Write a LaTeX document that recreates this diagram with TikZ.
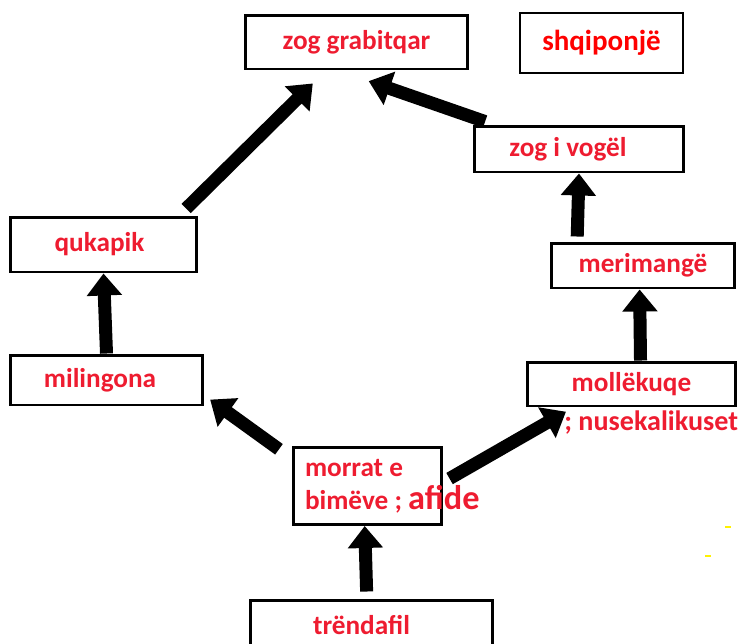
\documentclass[tikz,border=0pt]{standalone}
\usepackage{fontspec}
\setmainfont{Carlito}
\usepackage{tikz}
\usetikzlibrary{arrows.meta,positioning}
\definecolor{boxred}{RGB}{238,28,48}
\tikzstyle{box}=[draw,line width=1.7pt,inner sep=0pt,text=boxred,font=\fontsize{15.5}{19}\selectfont\bfseries]
\tikzstyle{note}=[inner sep=0pt,text=boxred,font=\fontsize{16}{19}\selectfont\bfseries]
\tikzstyle{every edge}=[draw,line width=0.26cm,-{Triangle[length=0.44cm,width=0.68cm]}]

\begin{document}
\begin{tikzpicture}[x=0.02cm,y=-0.02cm]
  \useasboundingbox (0,0) rectangle (741,643);
  \node[box,minimum width=4.46cm,minimum height=1.08cm]		(grabitqar) at (356.5,42) {zog grabitqar};
  \node[draw,line width=0.85pt,minimum width=3.26cm,minimum height=1.2cm,text=red,font=\fontsize{16.5}{19}\selectfont\bfseries]	(shqiponje) at (601.5,43) {shqiponjë};
  \node[box,minimum width=4.2cm,minimum height=0.92cm]		(vogel) at (579,149) {zog i vogël\hspace*{0.44cm}};
  \node[box,minimum width=3.74cm,minimum height=1.1cm]		(qukapik) at (103.5,244.5) {qukapik\hspace*{0.16cm}};
  \node[box,minimum width=3.68cm,minimum height=0.9cm]		(merimange) at (643,265.5) {merimangë};
  \node[box,minimum width=3.86cm,minimum height=1.0cm]		(milingona) at (106.5,380) {milingona\hspace*{0.26cm}};
  \node[box,minimum width=4.18cm,minimum height=0.88cm]		(mollekuqe) at (631.5,384) {mollëkuqe};
  \node[box,text width=2.5cm,align=flush left,inner xsep=0.24cm,minimum height=1.54cm]	(morrat) at (367.5,486)
    {morrat e\\bimëve\rlap{ ; \fontsize{19.5}{19}\selectfont afide}};
  \node[box,minimum width=4.86cm,minimum height=1.0cm]		(trendafil) at (371.5,625) {trëndafil\hspace*{0.4cm}};
  \node[note,anchor=west]		(nuse) at (564,423) {; nusekalikuset};

  \path (qukapik.21) edge[shorten <=0.2cm,shorten >=0.37cm] (grabitqar.223)
	(vogel.164) edge[shorten <=0.18cm,shorten >=0.65cm] (grabitqar.237)
	(milingona.north) edge (qukapik.south)
	(merimange.160) edge[shorten <=0.1cm] (vogel.south)
	(mollekuqe.69) edge (merimange.262)
	(morrat.160) edge[shorten <=0.31cm,shorten >=0.14cm] (milingona.351)
	(morrat.3) edge[shorten <=0.14cm,shorten >=0.17cm] (mollekuqe.202)
	(trendafil.100) edge[shorten <=0.14cm] (morrat.266);

  \draw[yellow,line width=1pt] (725,527) -- (731,527) (705,556) -- (711,556);
\end{tikzpicture}
\end{document}
